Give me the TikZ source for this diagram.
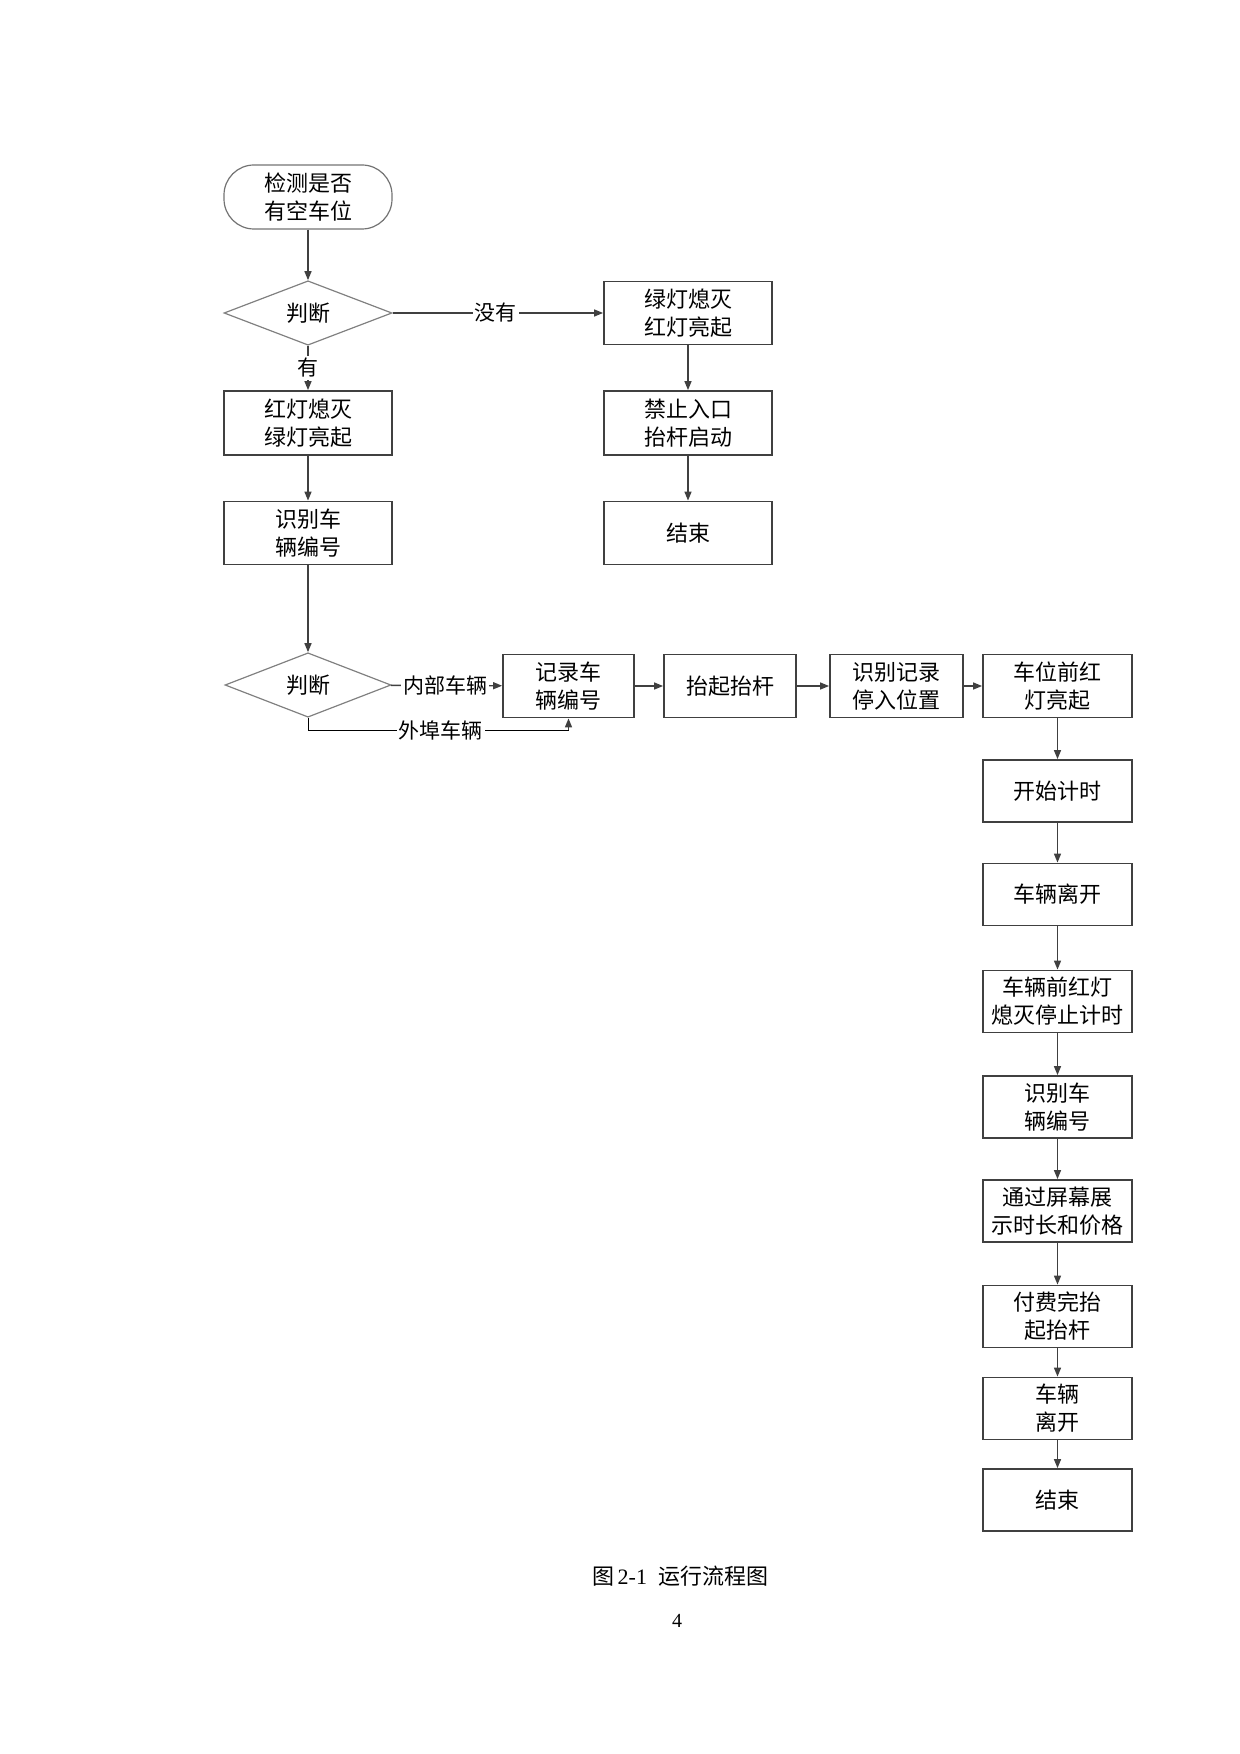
\documentclass[tikz,border=0pt]{standalone}
\usepackage{fontspec}
\setmainfont{Liberation Serif}
\newfontfamily\cjk{Noto Sans CJK SC}
\usepackage{tikz}
\usepackage{xcolor}
\usetikzlibrary{shapes,shapes.geometric,arrows.meta,positioning}
\definecolor{linegray}{RGB}{64,64,64}

\begin{document}
\begin{tikzpicture}[
    x=0.5pt, y=-0.5pt,
    box/.style={rectangle, draw=linegray, line width=0.9pt, minimum width=84pt, minimum height=31.5pt, align=center, inner sep=1pt, font=\cjk\fontsize{11}{14}\selectfont},
    rbox/.style={box, minimum width=74.5pt, minimum height=31pt},
    hbox/.style={box, minimum height=31.5pt},
    startbox/.style={box, draw=black!55, line width=0.6pt, minimum height=32pt, rounded corners=15pt},
    decision/.style={diamond, draw=black!50, line width=0.6pt, inner sep=0pt, minimum width=84pt, minimum height=31pt, font=\cjk\fontsize{11}{14}\selectfont},
    lbl/.style={fill=white, inner sep=1pt, font=\cjk\fontsize{10.5}{12}\selectfont},
    arrow/.style={-{Triangle[length=4.5pt,width=3.5pt]}, draw=linegray, line width=0.7pt}
]
\useasboundingbox (0,0) rectangle (1240,1754);

% left column
\node[startbox] (start) at (308,197) {检测是否\\有空车位};
\node[decision] (judge1) at (308,313) {判断};
\node[box, minimum height=32pt] (redoff) at (308,423) {红灯熄灭\\绿灯亮起};
\node[box] (ident1) at (308,533) {识别车\\辆编号};

% no space branch
\node[box] (greenoff) at (688,313) {绿灯熄灭\\红灯亮起};
\node[box, minimum height=32pt] (forbid) at (688,423) {禁止入口\\抬杆启动};
\node[box] (end1) at (688,533) {结束};

% second decision row
\node[decision, minimum width=83pt, minimum height=32pt] (judge2) at (308,685) {判断};
\node[hbox, minimum width=65.5pt] (record) at (568.5,686) {记录车\\辆编号};
\node[hbox, minimum width=66pt] (lift) at (730,686) {抬起抬杆};
\node[hbox, minimum width=66.5pt] (park) at (896.5,686) {识别记录\\停入位置};
\node[rbox, minimum height=31.5pt] (spot) at (1057.5,686) {车位前红\\灯亮起};
\coordinate (outer) at (568.5,730);

% right column
\node[rbox] (timer) at (1057.5,791) {开始计时};
\node[rbox] (leave1) at (1057.5,894.5) {车辆离开};
\node[rbox] (stop) at (1057.5,1001.5) {车辆前红灯\\熄灭停止计时};
\node[rbox] (ident2) at (1057.5,1107) {识别车\\辆编号};
\node[rbox] (show) at (1057.5,1211) {通过屏幕展\\示时长和价格};
\node[rbox] (pay) at (1057.5,1316.5) {付费完抬\\起抬杆};
\node[rbox] (leave2) at (1057.5,1408.5) {车辆\\离开};
\node[rbox] (end2) at (1057.5,1500) {结束};

\draw[arrow] (start) -- (judge1);
\draw[arrow] (judge1) -- node[lbl, pos=0.49] {没有} (greenoff);
\draw[arrow] (judge1) -- node[lbl, pos=0.5] {有} (redoff);
\draw[arrow] (greenoff) -- (forbid);
\draw[arrow] (forbid) -- (end1);
\draw[arrow] (redoff) -- (ident1);
\draw[arrow] (ident1) -- (judge2);
\draw[arrow] (judge2) -- node[lbl, pos=0.49] {内部车辆} (record);
\draw (judge2.south) |- node[lbl, pos=0.755] {外埠车辆} (outer);
\draw[arrow] (outer) -- (record.south);
\draw[arrow] (record) -- (lift);
\draw[arrow] (lift) -- (park);
\draw[arrow] (park) -- (spot);
\draw[arrow] (spot) -- (timer);
\draw[arrow] (timer) -- (leave1);
\draw[arrow] (leave1) -- (stop);
\draw[arrow] (stop) -- (ident2);
\draw[arrow] (ident2) -- (show);
\draw[arrow] (show) -- (pay);
\draw[arrow] (pay) -- (leave2);
\draw[arrow] (leave2) -- (end2);

\node[font=\fontsize{11}{13}\selectfont] (caption) at (680,1576) {{\cjk 图}\,2-1\enspace{\cjk 运行流程图}};
\node[font=\fontsize{10}{11}\selectfont] (page) at (677,1621) {4};
\end{tikzpicture}
\end{document}
